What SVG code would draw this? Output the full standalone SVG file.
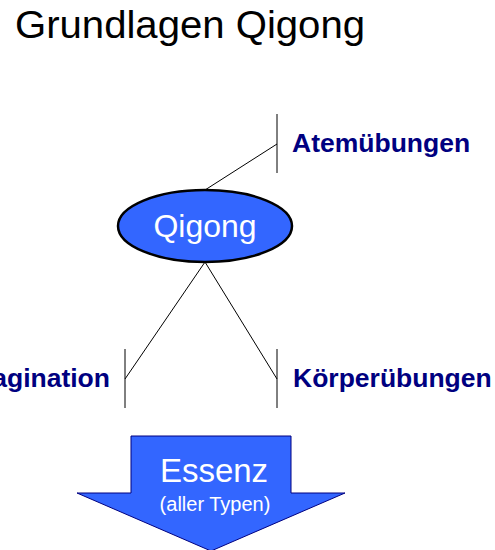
<svg xmlns="http://www.w3.org/2000/svg" width="495" height="550" viewBox="0 0 495 550">
<style>
.title{font-family:"Liberation Sans",Arial,sans-serif;font-size:38px;fill:#000}
.lbl{font-family:"Liberation Sans",Arial,sans-serif;font-size:26.5px;font-weight:bold;fill:#000080}
.line{stroke:#000;stroke-width:1;fill:none}
.node{fill:#3366FF;stroke:#000;stroke-width:2.5}
.wt{font-family:"Liberation Sans",Arial,sans-serif;fill:#fff;text-anchor:middle}
</style>
<rect width="495" height="550" fill="#fff"/>
<text class="title" x="15" y="38" textLength="350" lengthAdjust="spacingAndGlyphs">Grundlagen Qigong</text>
<g id="connectors">
<line class="line" x1="205" y1="190" x2="277" y2="144"/>
<line class="line" x1="205" y1="262" x2="125" y2="379"/>
<line class="line" x1="205" y1="262" x2="277" y2="379"/>
</g>
<g id="atem">
<line class="line" x1="277" y1="114" x2="277" y2="173"/>
<text class="lbl" x="292" y="152">Atemübungen</text>
</g>
<g id="imagination">
<line class="line" x1="125" y1="349" x2="125" y2="408" stroke="#555"/>
<text class="lbl" x="110" y="387" text-anchor="end">Imagination</text>
</g>
<g id="koerper">
<line class="line" x1="277" y1="349" x2="277" y2="408"/>
<text class="lbl" x="293" y="387">Körperübungen</text>
</g>
<g id="qigong">
<ellipse class="node" cx="205" cy="226" rx="87" ry="36"/>
<text class="wt" x="205" y="237" font-size="32">Qigong</text>
</g>
<g id="essenz">
<path d="M131,436 H291 V493 H345 L211,551 L77,493 H131 Z" fill="#3366FF" stroke="#000080" stroke-width="1"/>
<text class="wt" x="214" y="482" font-size="33">Essenz</text>
<text class="wt" x="215" y="511" font-size="20">(aller Typen)</text>
</g>
</svg>
